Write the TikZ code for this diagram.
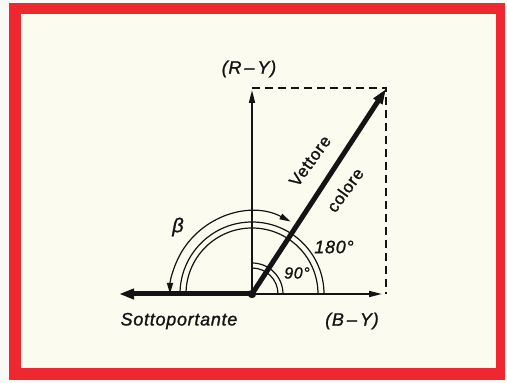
\documentclass[tikz,border=0pt]{standalone}
\usepackage{fontspec}
\setmainfont{Liberation Sans}
\newfontfamily\lblfont[LetterSpace=4, FakeBold=1.2]{Liberation Sans}
\usetikzlibrary{arrows.meta}
\definecolor{frame}{RGB}{238,40,46}
\definecolor{paper}{RGB}{252,251,240}
\definecolor{outside}{RGB}{249,249,245}
\definecolor{ink}{RGB}{20,20,20}
\tikzset{
  axis/.style={draw=ink, line width=1.6pt, -{Triangle[length=13pt,width=6pt]}},
  thickvec/.style={draw=ink, line width=5pt, -{Triangle[length=15pt,width=10pt]}},
  dashline/.style={draw=ink, line width=1.5pt, dash pattern=on 8pt off 5pt},
  arcline/.style={draw=ink, line width=1.2pt},
  lbl/.style={font=\lblfont\fontsize{18}{20}\selectfont\itshape, text=ink, inner sep=0pt},
  vlbl/.style={font=\lblfont\fontsize{17}{19}\selectfont, text=ink, inner sep=0pt, rotate=54},
}
\begin{document}
\begin{tikzpicture}[x=1pt,y=1pt]
\useasboundingbox (0,0) rectangle (507,383);
\fill[outside] (0,0) rectangle (507,383);
\fill[frame] (9,3) rectangle (505,380);
\fill[paper] (21,15) rectangle (496,369);

\coordinate (O) at (252,89);
\coordinate (RY) at (252,293);
\coordinate (BY) at (382,89);
\coordinate (S) at (119,89);
\coordinate (V) at (386,294);
\coordinate (TL) at (252,295);
\coordinate (TR) at (386,295);
\coordinate (BR) at (386,89);

% dashed rectangle
\draw[dashline] (TL) -- (TR) -- (BR);

% arcs
\draw[arcline] ([shift={(72,0)}]O) arc[start angle=0,end angle=180,radius=72];
\draw[arcline] ([shift={(66,0)}]O) arc[start angle=0,end angle=180,radius=66];
\draw[arcline] ([shift={(31,0)}]O) arc[start angle=0,end angle=90,radius=31];
\draw[arcline] ([shift={(26,0)}]O) arc[start angle=0,end angle=90,radius=26];
\draw[arcline, {Triangle[length=11pt,width=6pt]}-{Triangle[length=11pt,width=6pt]}]
  ([shift={(62:82)}]O) arc[start angle=62,end angle=180,radius=82];

% axes
\draw[axis] (O) -- (RY);
\draw[axis] (O) -- (BY);
\draw[thickvec] (O) -- (S);
\draw[thickvec] (O) -- (V);
\fill[ink] (O) circle (4.2);

% labels
\node[lbl] (lRY) at (249,314) {(R\,–\,Y)};
\node[lbl] (lBY) at (352,62) {(B\,–\,Y)};
\node[lbl] (lS) at (179,62) {Sottoportante};
\node[lbl] (l180) at (334,136) {180°};
\node[lbl, font=\lblfont\fontsize{16}{18}\selectfont\itshape] (l90) at (297,110) {90°};
\node[lbl, font=\lblfont\fontsize{20}{22}\selectfont\itshape] (lb) at (178,156) {β};
\node[vlbl] (lv1) at (310,222) {Vettore};
\node[vlbl] (lv2) at (345,193) {colore};
\end{tikzpicture}
\end{document}
